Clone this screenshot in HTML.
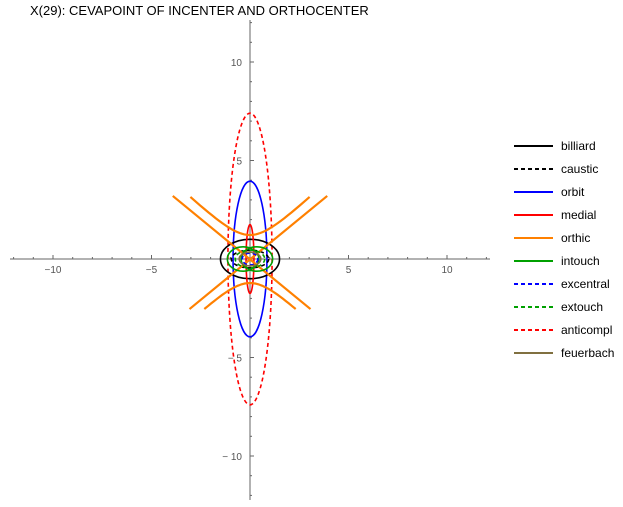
<!DOCTYPE html>
<html><head><meta charset="utf-8"><style>
body{margin:0;background:#fff;width:623px;height:502px;overflow:hidden;font-family:"Liberation Sans",sans-serif}
</style></head><body>
<svg id="chart" width="623" height="502" xmlns="http://www.w3.org/2000/svg">
<text x="30" y="15" font-size="13" fill="#000">X(29): CEVAPOINT OF INCENTER AND ORTHOCENTER</text>
<g id="axes"></g>
<g id="curves"></g>
<g id="legend"></g>
</svg>
<script>
const xTicks=[-10,-5,5,10];
const yTicks=[-10,-5,5,10];
const seriesNames=["billiard","caustic","orbit","medial","orthic","intouch","excentral","extouch","anticompl","feuerbach"];
const seriesColors=["#000","#000","#0000ff","#ff0000","#ff8000","#00a000","#0000ff","#00a000","#ff0000","#807040"];
const seriesDashed=[false,true,false,false,false,false,true,true,true,false];
// ellipses: [cx, cy, a, b] in data units
const billiard=[0,0,1.5,1.0];
const caustic=[0,0,0.95,0.45];
const orbit=[0,0,0.86,3.95];
const medial=[0,0,0.2,1.75];
const anticompl=[0,0,1.12,7.4];
const feuerbach=[0,0,0.55,0.35];
const excentral=[0,0,0.4,0.3];
const extouch=[0,0,0.75,0.45];
const intouchA=[-0.35,0,0.8,0.62];
const intouchB=[0.35,0,0.8,0.62];
// orthic hyperbola: [a(vertex), b, yTop, yBottom]
const orthicUD=[1.22,1.27,3.15,-2.54];
// orthic crossing lines: [x1, y1, x2, y2] data units
const orthicLines=[[-3.92,3.2,3.07,-2.54],[3.92,3.2,-3.07,-2.54]];

const X0=250,Y0=259,S=19.7;
const sx=v=>X0+v*S, sy=v=>Y0-v*S;
const NS="http://www.w3.org/2000/svg";
function mk(tag,attrs,parent){const e=document.createElementNS(NS,tag);for(const k in attrs)e.setAttribute(k,attrs[k]);parent.appendChild(e);return e;}
const ax=document.getElementById('axes'),cv=document.getElementById('curves'),lg=document.getElementById('legend');
let l=mk('line',{x1:10,y1:Y0,x2:490,y2:Y0,stroke:'#666','stroke-width':1},ax);


l=mk('line',{x1:X0,y1:20,x2:X0,y2:500,stroke:'#666','stroke-width':1},ax);


for(let i=-12;i<=12;i++){
  if(i===0)continue;
  const big=i%5===0, len=big?4:2;
  mk('line',{x1:sx(i),y1:Y0-len,x2:sx(i),y2:Y0,stroke:'#666'},ax);
  mk('line',{x1:X0,y1:sy(i),x2:X0+len,y2:sy(i),stroke:'#666'},ax);
}
xTicks.forEach(v=>{const t=mk('text',{x:sx(v),y:Y0+14,'font-size':10,fill:'#555','text-anchor':'middle'},ax);t.textContent=(v<0?'\u2212':'')+Math.abs(v);

});
yTicks.forEach(v=>{const t=mk('text',{x:X0-8,y:sy(v)+4,'font-size':10,fill:'#555','text-anchor':'end'},ax);t.textContent=(v<0?'\u2212 ':'')+Math.abs(v);

});
function ell(e,idx,name){
  const el=mk('ellipse',{cx:sx(e[0]),cy:sy(e[1]),rx:e[2]*S,ry:e[3]*S,fill:'none',stroke:seriesColors[idx],'stroke-width':1.6},cv);
  if(seriesDashed[idx])el.setAttribute('stroke-dasharray','4,3');
  
  
}
ell(anticompl,8,'anticompl-curve');
ell(orbit,2,'orbit-curve');
ell(billiard,0,'billiard-curve');
ell(caustic,1,'caustic-curve');
ell(medial,3,'medial-curve');
function hypUD(h,sign,ylim){
  const [a,b]=h;const tmax=Math.acosh(Math.abs(ylim)/a);let d='';
  for(let i=0;i<=40;i++){const t=-tmax+2*tmax*i/40;d+=(i?'L':'M')+sx(b*Math.sinh(t)).toFixed(1)+','+sy(sign*a*Math.cosh(t)).toFixed(1);}
  const p=mk('path',{d:d,fill:'none',stroke:seriesColors[4],'stroke-width':2.2},cv);
  
  
}
hypUD(orthicUD,1,orthicUD[2]);hypUD(orthicUD,-1,orthicUD[3]);
orthicLines.forEach(L=>{
  const p=mk('line',{x1:sx(L[0]),y1:sy(L[1]),x2:sx(L[2]),y2:sy(L[3]),stroke:seriesColors[4],'stroke-width':2.2},cv);
  
  
});
ell(intouchA,5,'intouch-curve');
ell(intouchB,5,'intouch-curve');
ell(extouch,7,'extouch-curve');
ell(excentral,6,'excentral-curve');
ell(feuerbach,9,'feuerbach-curve');
seriesNames.forEach((n,i)=>{
  const y=146+i*23;
  const g=mk('g',{},lg);
  
  
  const ln=mk('line',{x1:514,y1:y,x2:553,y2:y,stroke:seriesColors[i],'stroke-width':2},g);
  if(seriesDashed[i])ln.setAttribute('stroke-dasharray','4,3');
  const t=mk('text',{x:561,y:y+4,'font-size':12,fill:'#000'},g);t.textContent=n;
});
</script>
</body></html>
